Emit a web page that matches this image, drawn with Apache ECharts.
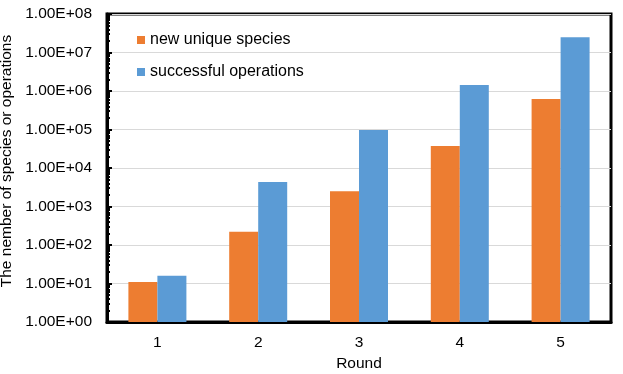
<!DOCTYPE html>
<html><head><meta charset="utf-8">
<script src="https://cdn.jsdelivr.net/npm/echarts@6/dist/echarts.min.js"></script>
<style>html,body{margin:0;padding:0;background:#fff}#c{width:623px;height:374px}</style>
</head><body><div id="c"></div>
<script>
const rounds = ['1', '2', '3', '4', '5'];
const newUniqueSpecies = [11, 220, 2500, 37000, 620000];
const successfulOperations = [16, 4300, 97000, 1430000, 25000000];
const seriesNames = ['new unique species', 'successful operations'];
const yAxisName = 'The nember of species or operations';
const xAxisName = 'Round';
const minorMultipliers = [2, 3, 4, 5, 6, 7, 8, 9];
const decades = [1, 10, 100, 1e3, 1e4, 1e5, 1e6, 1e7];

const minorTickValues = [];
decades.forEach(d => minorMultipliers.forEach(m => minorTickValues.push(d * m)));

function sci(v) {
  const e = Math.round(Math.log10(v));
  return '1.00E+' + (e < 10 ? '0' + e : e);
}
const font = 'Liberation Sans, Arial, sans-serif';
const chart = echarts.init(document.getElementById('c'), null, {renderer: 'canvas'});
chart.setOption({
  animation: false,
  textStyle: {fontFamily: font},
  grid: {left: 107, right: 12, top: 14, bottom: 52, show: true, borderColor: '#000', borderWidth: 3, containLabel: false, outerBoundsMode: 'none'},
  legend: {
    orient: 'vertical', left: 137, top: 32, padding: 0, itemGap: 16, itemWidth: 8, itemHeight: 8, icon: 'rect',
    textStyle: {fontSize: 16, color: '#000', fontFamily: font},
    data: seriesNames
  },
  xAxis: {
    type: 'category', data: rounds,
    name: xAxisName, nameLocation: 'middle', nameGap: 33,
    nameTextStyle: {fontSize: 15.5, color: '#000', fontFamily: font},
    axisLine: {lineStyle: {color: '#000', width: 3}},
    axisTick: {show: false},
    axisLabel: {fontSize: 15.5, color: '#000', margin: 13, fontFamily: font}
  },
  yAxis: [{
    type: 'log', logBase: 10, min: 1, max: 1e8,
    name: yAxisName, nameLocation: 'middle', nameGap: 92,
    nameTextStyle: {fontSize: 15.5, color: '#000', fontFamily: font, padding: [0, 0, 0, 14]},
    axisLine: {show: true, lineStyle: {color: '#000', width: 3}},
    axisTick: {show: true, inside: true, length: 5, lineStyle: {color: '#000', width: 2}},
    splitLine: {show: true, lineStyle: {color: '#D9D9D9', width: 1}},
    axisLabel: {fontSize: 15.5, color: '#000', margin: 15, fontFamily: font, formatter: sci}
  }, {
    type: 'log', logBase: 10, min: 1, max: 1e8, position: 'left',
    axisLine: {show: false},
    axisLabel: {show: false},
    splitLine: {show: false},
    axisTick: {show: true, inside: true, length: 3, customValues: minorTickValues, lineStyle: {color: '#000', width: 2}}
  }],
  series: [
    {name: seriesNames[0], type: 'bar', data: newUniqueSpecies, barWidth: 29, barGap: '0%', itemStyle: {color: '#ED7D31'}},
    {name: seriesNames[1], type: 'bar', data: successfulOperations, barWidth: 29, barGap: '0%', itemStyle: {color: '#5B9BD5'}}
  ]
});
</script></body></html>
